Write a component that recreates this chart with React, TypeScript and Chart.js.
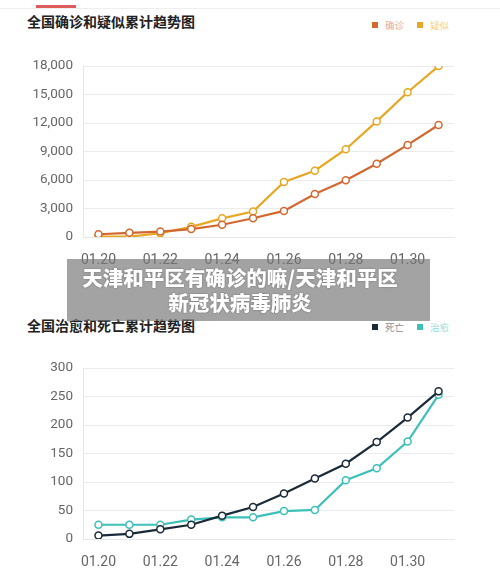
import React, { useEffect, useRef } from "react";
import { Chart, registerables } from "chart.js";

Chart.register(...registerables);

const categories = ["01.20", "01.21", "01.22", "01.23", "01.24", "01.25", "01.26", "01.27", "01.28", "01.29", "01.30", "01.31"];
const confirmed = [291, 440, 571, 830, 1287, 1975, 2744, 4515, 5974, 7711, 9692, 11791];
const suspected = [54, 37, 393, 1072, 1965, 2684, 5794, 6973, 9239, 12167, 15238, 17988];
const deaths = [6, 9, 17, 25, 41, 56, 80, 106, 132, 170, 213, 259];
const cured = [25, 25, 25, 34, 38, 38, 49, 51, 103, 124, 171, 253];

const title1 = "全国确诊和疑似累计趋势图";
const title2 = "全国治愈和死亡累计趋势图";
const bannerLine1 = "天津和平区有确诊的嘛/天津和平区";
const bannerLine2 = "新冠状病毒肺炎";

const series1 = [
  { label: "确诊", data: confirmed, color: "#d2682f" },
  { label: "疑似", data: suspected, color: "#e8a722" },
];
const series2 = [
  { label: "死亡", data: deaths, color: "#1b2a38" },
  { label: "治愈", data: cured, color: "#3cc0b8" },
];

const FONT = "Roboto, 'Noto Sans', sans-serif";

type Series = { label: string; data: number[]; color: string };

function LineChart({ series, max, step, thousands }: { series: Series[]; max: number; step: number; thousands: boolean }) {
  const ref = useRef<HTMLCanvasElement | null>(null);
  useEffect(() => {
    if (!ref.current) return;
    const chart = new Chart(ref.current, {
      type: "line",
      data: {
        labels: categories,
        datasets: series.map((s) => ({
          label: s.label,
          data: s.data,
          borderColor: s.color,
          backgroundColor: "#ffffff",
          pointBackgroundColor: "#ffffff",
          pointBorderColor: s.color,
          pointBorderWidth: 1.5,
          pointRadius: 3.5,
          borderWidth: 2.2,
          tension: 0,
        })),
      },
      options: {
        animation: false,
        responsive: false,
        maintainAspectRatio: false,
        layout: { padding: { top: 26, left: 0, right: 46, bottom: 0 } },
        plugins: { legend: { display: false }, tooltip: { enabled: false } },
        scales: {
          x: {
            offset: true,
            grid: { display: false },
            border: { display: true, color: "#e6e6e6", width: 1 },
            afterFit: (s: any) => { s.height = 28; },
            ticks: {
              autoSkip: false,
              maxRotation: 0,
              padding: 7,
              color: "#666",
              font: { family: FONT, size: 14 },
              callback: (_v: any, i: number) => (i % 2 === 0 ? categories[i] : ""),
            },
          },
          y: {
            min: 0,
            max: max,
            afterFit: (s: any) => { s.width = 83; },
            grid: { color: "#ececec", drawTicks: false, lineWidth: 1 },
            border: { display: true, color: "#e6e6e6" },
            ticks: {
              stepSize: step,
              padding: 10,
              color: "#666",
              font: { family: FONT, size: 13.5 },
              callback: (v: any) => (thousands ? Number(v).toLocaleString("en-US") : String(v)),
            },
          },
        },
      },
    });
    return () => chart.destroy();
  }, []);
  return <canvas ref={ref} width={500} height={225} style={{ display: "block", width: 500, height: 225 }} />;
}

function Legend({ series, top }: { series: Series[]; top: number }) {
  return (
    <div style={{ position: "absolute", top: top - 7, left: 372, display: "flex", alignItems: "center", height: 14 }}>
      {series.map((s, i) => (
        <div key={s.label} style={{ display: "flex", alignItems: "center", marginRight: i === 0 ? 13 : 0 }}>
          <span style={{ width: 6, height: 6, background: s.color, display: "inline-block", marginRight: 7 }} />
          <span style={{ fontSize: 9.5, color: s.color, opacity: 0.55, fontFamily: "'Noto Sans CJK SC', sans-serif", lineHeight: "14px" }}>{s.label}</span>
        </div>
      ))}
    </div>
  );
}

export default function App() {
  useEffect(() => {
    document.body.style.margin = "0";
  }, []);
  const titleStyle: React.CSSProperties = {
    position: "absolute",
    left: 27,
    fontFamily: "'Noto Sans CJK SC', sans-serif",
    fontWeight: 700,
    fontSize: 14,
    color: "#222",
    lineHeight: "18px",
    whiteSpace: "nowrap",
  };
  return (
    <div style={{ position: "relative", width: 500, height: 582, background: "#fff", overflow: "hidden" }}>
      <div style={{ position: "absolute", top: 8, left: 0, width: 500, height: 1, background: "#eeeeee" }} />
      <div style={{ position: "absolute", top: 5, left: 36, width: 40, height: 2.5, background: "#e05a5a" }} />
      <div style={{ ...titleStyle, top: 12 }}>{title1}</div>
      <Legend series={series1} top={25} />
      <div style={{ position: "absolute", top: 40, left: 0 }}>
        <LineChart series={series1} max={18000} step={3000} thousands={true} />
      </div>
      <div style={{ ...titleStyle, top: 316 }}>{title2}</div>
      <Legend series={series2} top={327} />
      <div style={{ position: "absolute", top: 342, left: 0 }}>
        <LineChart series={series2} max={300} step={50} thousands={false} />
      </div>
      <div
        style={{
          position: "absolute",
          left: 67,
          top: 259,
          width: 363,
          height: 62,
          background: "rgba(120,120,120,0.68)",
          color: "#fff",
          fontFamily: "'Noto Sans CJK SC', sans-serif",
          fontWeight: 900,
          fontSize: 20.5,
          lineHeight: "25px",
          textAlign: "center",
          paddingTop: 6,
          paddingRight: 17,
          boxSizing: "border-box",
          textShadow: "0 0 2px rgba(0,0,0,0.35)",
        }}
      >
        <div style={{ whiteSpace: "nowrap" }}>{bannerLine1}</div>
        <div style={{ whiteSpace: "nowrap" }}>{bannerLine2}</div>
      </div>
    </div>
  );
}
